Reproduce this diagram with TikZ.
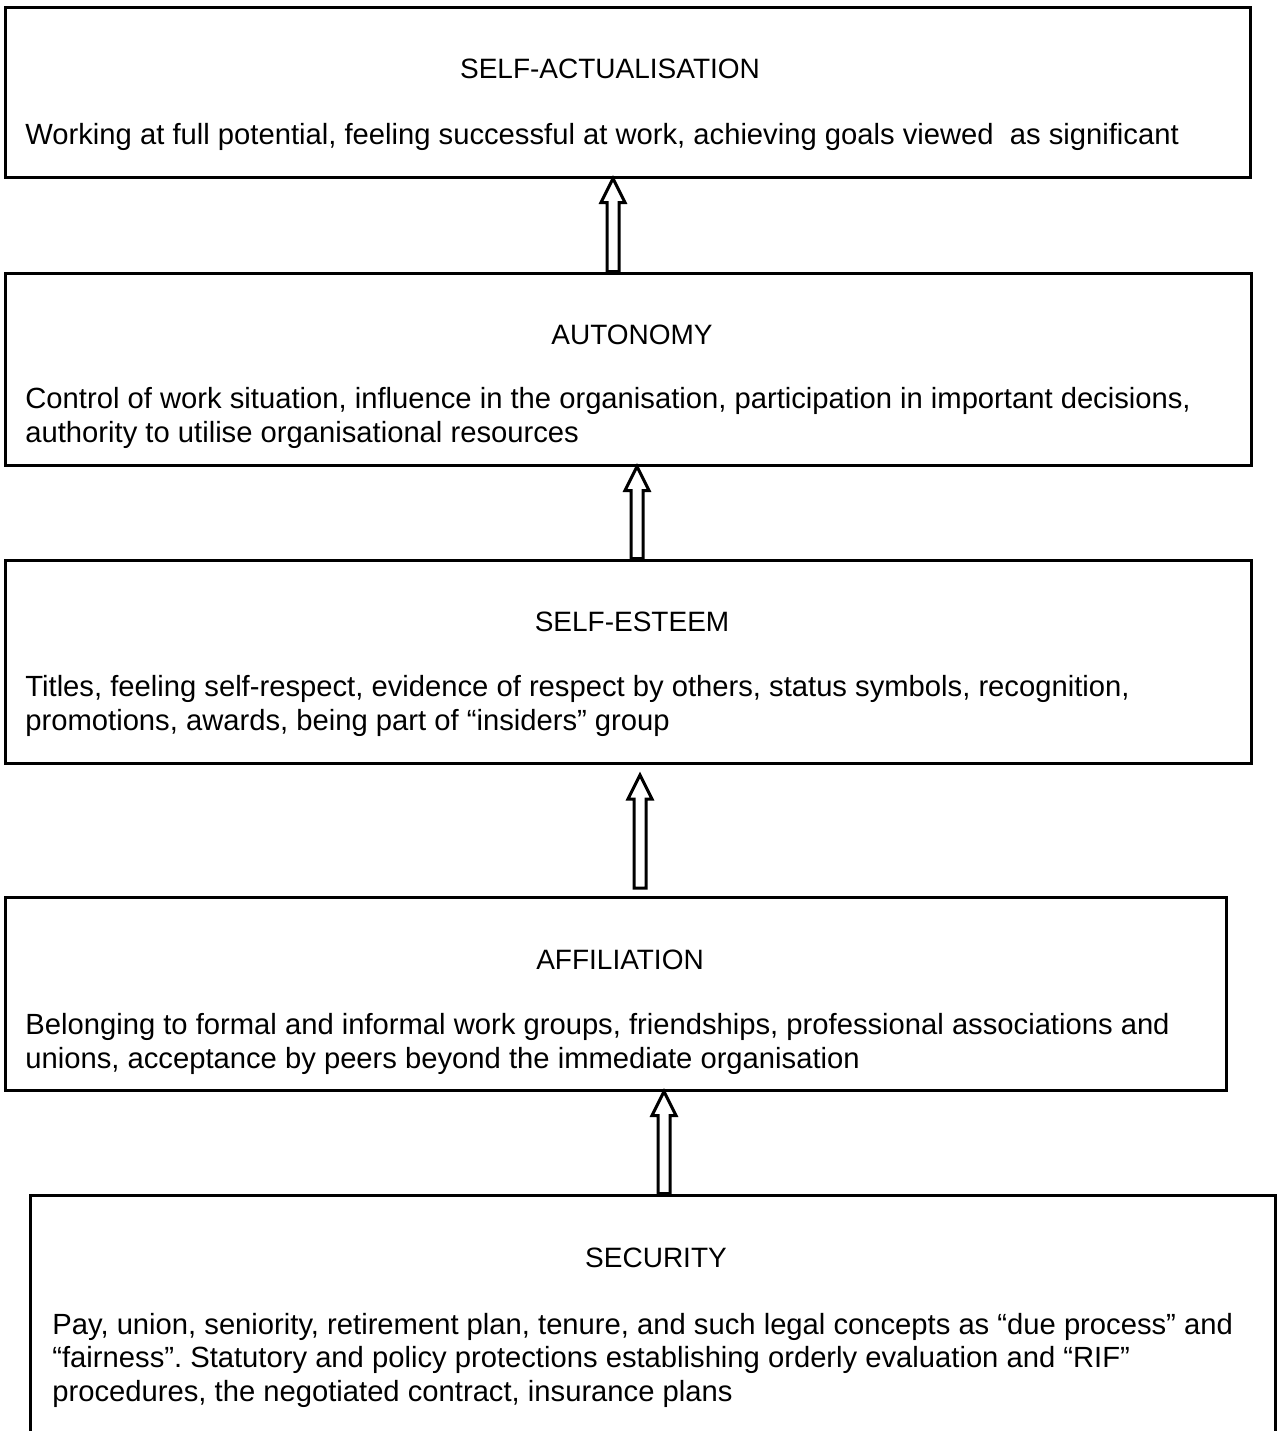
\documentclass[tikz,border=0pt]{standalone}
\usepackage{fontspec}
\setmainfont{Liberation Sans}
\usetikzlibrary{calc,positioning}
\frenchspacing

\begin{document}
\begin{tikzpicture}[x=0.5pt,y=-0.5pt,
          every node/.style={font=\fontsize{14.6}{16.75}\selectfont},
          levelbox/.style={draw,line width=1.5pt,inner sep=0pt},
          leveltitle/.style={anchor=base,inner sep=0pt,
                             font=\fontsize{14}{16.75}\selectfont},
          leveltext/.style={anchor=base west,align=left,inner sep=0pt},
          blockarrow/.style={line width=1.5pt,fill=white,to path={
              let \p1=(\tikztostart), \p2=(\tikztotarget) in
              (\x1-3pt,\y1) -- (\x1-3pt,\y2-12pt) -- (\x1-6pt,\y2-12pt)
              -- (\x1,\y2) -- (\x1+6pt,\y2-12pt) -- (\x1+3pt,\y2-12pt)
              -- (\x1+3pt,\y1) -- cycle}}]
        \clip (0,0) rectangle (1281,1431);
        % the five levels
        \node[levelbox,minimum width=622.5pt,minimum height=85pt] (act) at (627.5,92) {};
        \node[levelbox,minimum width=623pt,minimum height=96pt] (aut) at (628,369) {};
        \node[levelbox,minimum width=623pt,minimum height=101.5pt] (est) at (628,661.5) {};
        \node[levelbox,minimum width=610.5pt,minimum height=96.5pt] (aff) at (615.5,993.5) {};
        \node[levelbox,minimum width=622.5pt,minimum height=125pt] (sec) at (652.5,1320) {};
        % titles
        \node[leveltitle] (acttitle) at (610,78) {SELF-ACTUALISATION};
        \node[leveltitle] (auttitle) at (632,344) {AUTONOMY};
        \node[leveltitle] (esttitle) at (632,631) {SELF-ESTEEM};
        \node[leveltitle] (afftitle) at (620,969) {AFFILIATION};
        \node[leveltitle] (sectitle) at (656,1267) {SECURITY};
        % descriptions (anchored at the baseline of the last line)
        \node[leveltext] (acttext) at (25,144)
          {Working at full potential, feeling successful at work, achieving goals viewed\ \ as significant};
        \node[leveltext] (auttext) at (25,442)
          {Control of work situation, influence in the organisation, participation in important decisions,\\
           authority to utilise organisational resources};
        \node[leveltext] (esttext) at (25,730)
          {Titles, feeling self-respect, evidence of respect by others, status symbols, recognition,\\
           promotions, awards, being part of “insiders” group};
        \node[leveltext] (afftext) at (25,1068)
          {Belonging to formal and informal work groups, friendships, professional associations and\\
           unions, acceptance by peers beyond the immediate organisation};
        \node[leveltext] (sectext) at (52,1401)
          {Pay, union, seniority, retirement plan, tenure, and such legal concepts as “due process” and\\
           “fairness”. Statutory and policy protections establishing orderly evaluation and “RIF”\\
           procedures, the negotiated contract, insurance plans};
        % hollow arrows between levels
        \coordinate (estfoot) at (640,888);
        \coordinate (esttip) at (640,775);
        \draw[blockarrow] (aut.north -| 613,0) to (act.south -| 613,0);
        \draw[blockarrow] (est.north -| 637,0) to (aut.south -| 637,0);
        \draw[blockarrow] (estfoot) to (esttip);
        \draw[blockarrow] (sec.north -| 664,0) to (aff.south -| 664,0);
      \end{tikzpicture}
\end{document}
